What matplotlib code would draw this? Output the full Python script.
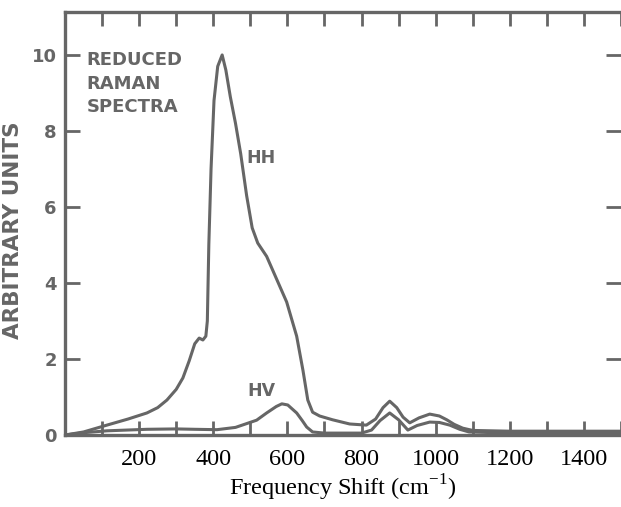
import matplotlib
matplotlib.use('Agg')
import matplotlib.pyplot as plt
from matplotlib.ticker import MultipleLocator

# reduced Raman spectra
hh_shift = [0, 50, 113, 170, 221, 250, 275, 300, 318, 335, 350, 362, 372, 380,
            384, 388, 394, 402, 412, 424, 434, 446, 460, 474, 490, 505, 520,
            544, 571, 598, 625, 642, 655, 668, 687, 722, 768, 813, 838, 858,
            876, 895, 912, 930, 955, 984, 1010, 1030, 1050, 1073, 1100, 1200,
            1300, 1400, 1500]
hh_val = [0.0, 0.08, 0.26, 0.42, 0.58, 0.72, 0.92, 1.2, 1.5, 1.95, 2.4, 2.55,
          2.5, 2.6, 3.0, 5.0, 7.0, 8.8, 9.7, 10.0, 9.6, 8.9, 8.2, 7.4, 6.3,
          5.45, 5.05, 4.7, 4.1, 3.5, 2.6, 1.7, 0.92, 0.6, 0.5, 0.4, 0.29, 0.26,
          0.42, 0.72, 0.89, 0.72, 0.47, 0.32, 0.45, 0.55, 0.5, 0.4, 0.28,
          0.18, 0.12, 0.1, 0.1, 0.1, 0.1]

hv_shift = [0, 50, 113, 221, 300, 350, 410, 460, 517, 544, 570, 585, 601, 625,
            640, 652, 668, 700, 800, 827, 850, 876, 900, 925, 950, 984, 1010,
            1038, 1065, 1090, 1200, 1500]
hv_val = [0.0, 0.06, 0.11, 0.15, 0.16, 0.15, 0.14, 0.2, 0.39, 0.58, 0.75,
          0.82, 0.79, 0.58, 0.38, 0.21, 0.08, 0.05, 0.05, 0.13, 0.38, 0.58,
          0.4, 0.13, 0.25, 0.34, 0.33, 0.26, 0.15, 0.08, 0.05, 0.05]

x_ticks = [200, 400, 600, 800, 1000, 1200, 1400]
y_ticks = [0, 2, 4, 6, 8, 10]

grey = '#666666'

fig = plt.figure(figsize=(6.21, 5.07), dpi=100)
ax = fig.add_axes([65 / 621, 72 / 507, 556 / 621, 423 / 507])

ax.plot(hh_shift, hh_val, color=grey, lw=2.2, solid_joinstyle='round')
ax.plot(hv_shift, hv_val, color=grey, lw=2.2, solid_joinstyle='round')

ax.set_xlim(0, 1500)
ax.set_ylim(0, 11.13)

for side in ['left', 'top', 'bottom']:
    ax.spines[side].set_color(grey)
    ax.spines[side].set_linewidth(2.4)
ax.spines['right'].set_visible(False)

ax.set_xticks(x_ticks)
ax.xaxis.set_minor_locator(MultipleLocator(100))
ax.tick_params(axis='x', which='both', direction='in', length=10, width=2,
               color=grey, pad=10, top=True, bottom=True)
ax.tick_params(axis='y', which='major', direction='in', length=11, width=2,
               color=grey, pad=6, left=True, right=True)
ax.set_xticklabels([str(v) for v in x_ticks], family='Liberation Serif',
                   fontsize=17.5, color='black')
ax.set_yticklabels([str(v) for v in y_ticks], family='DejaVu Sans',
                   fontweight='bold', fontsize=13, color=grey)

ax.set_xlabel(r'Frequency Shift (cm$^{\mathregular{-1}}$)',
              family='Liberation Serif', fontsize=17.5, labelpad=2)
ax.set_ylabel('ARBITRARY UNITS', family='DejaVu Sans', fontweight='bold',
              fontsize=15.5, color=grey)
ax.yaxis.set_label_coords(-0.075, 0.485)

ax.text(58, 10.1, 'REDUCED\nRAMAN\nSPECTRA', family='DejaVu Sans',
        fontweight='bold', fontsize=13, color=grey, va='top',
        linespacing=1.4)
ax.text(490, 7.3, 'HH', family='DejaVu Sans', fontweight='bold',
        fontsize=12.5, color=grey, va='center')
ax.text(493, 1.15, 'HV', family='DejaVu Sans', fontweight='bold',
        fontsize=12.5, color=grey, va='center')

fig.savefig('out.png', dpi=100)
